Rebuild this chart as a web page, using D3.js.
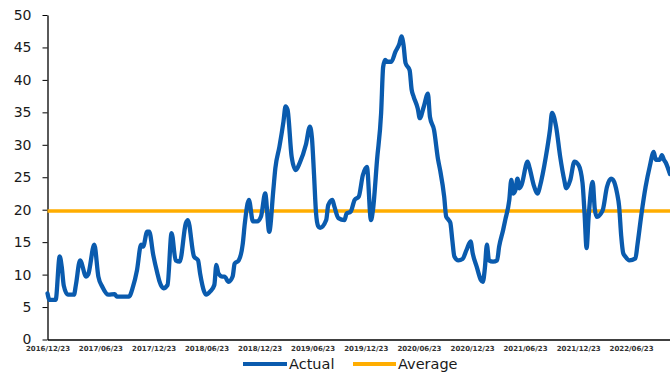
<!DOCTYPE html>
<html>
<head>
<meta charset="utf-8">
<script src="https://cdn.jsdelivr.net/npm/d3@7"></script>
<style>
  html, body { margin: 0; padding: 0; background: #fff; }
  svg { display: block; }
</style>
</head>
<body>
<svg id="chart" width="670" height="376"></svg>
<script>
// Weekly observations (Friday dates) and the actual level at each.
const dates = [
  "2016-12-23","2016-12-30","2017-01-20","2017-02-03","2017-02-10","2017-02-17","2017-03-03","2017-03-24",
  "2017-03-31","2017-04-14","2017-05-05","2017-05-12","2017-06-02","2017-06-16","2017-06-30","2017-07-21",
  "2017-08-11","2017-08-18","2017-09-29","2017-10-13","2017-10-27","2017-11-10","2017-11-17","2017-12-01",
  "2017-12-08","2017-12-22",
  "2018-01-05","2018-01-12","2018-01-26","2018-02-09","2018-02-23","2018-03-09","2018-03-23","2018-04-13",
  "2018-04-20","2018-05-11","2018-05-25","2018-06-01","2018-06-15","2018-06-22","2018-07-06","2018-07-20",
  "2018-07-27","2018-08-03","2018-08-17","2018-08-24","2018-09-07","2018-09-21","2018-09-28","2018-10-12",
  "2018-10-26","2018-11-02","2018-11-16","2018-11-30","2018-12-14","2018-12-28",
  "2019-01-11","2019-01-25","2019-02-08","2019-02-15","2019-03-01","2019-03-15","2019-03-22","2019-03-29",
  "2019-04-12","2019-04-26","2019-05-10","2019-05-31","2019-06-14","2019-06-21","2019-06-28","2019-07-05",
  "2019-07-12","2019-07-19","2019-08-09","2019-08-16","2019-08-30","2019-09-06","2019-09-20","2019-10-11",
  "2019-10-18","2019-11-01","2019-11-15","2019-11-29","2019-12-13","2019-12-27",
  "2020-01-10","2020-01-17","2020-01-31","2020-02-14","2020-02-21","2020-02-28","2020-03-06","2020-03-20",
  "2020-04-03","2020-04-17","2020-04-24","2020-05-01","2020-05-08","2020-05-22","2020-05-29","2020-06-05",
  "2020-06-19","2020-06-26","2020-07-10","2020-07-24","2020-07-31","2020-08-14","2020-08-28","2020-09-04",
  "2020-09-18","2020-09-25","2020-10-02","2020-10-09","2020-10-16","2020-10-23","2020-11-06","2020-11-20",
  "2020-12-04","2020-12-18","2020-12-25",
  "2021-01-08","2021-01-22","2021-01-29","2021-02-05","2021-02-12","2021-02-19","2021-03-05","2021-03-19",
  "2021-03-26","2021-04-09","2021-04-16","2021-04-30","2021-05-07","2021-05-14","2021-05-21","2021-05-28",
  "2021-06-04","2021-06-11","2021-07-02","2021-07-09","2021-07-23","2021-08-06","2021-08-13","2021-09-03",
  "2021-09-17","2021-09-24","2021-10-08","2021-10-22","2021-11-05","2021-11-12","2021-11-26","2021-12-10",
  "2021-12-24",
  "2022-01-07","2022-01-14","2022-01-21","2022-01-28","2022-02-11","2022-02-18","2022-02-25","2022-03-11",
  "2022-03-18","2022-04-01","2022-04-15","2022-04-22","2022-05-06","2022-05-13","2022-05-20","2022-05-27",
  "2022-06-03","2022-06-17","2022-07-08","2022-07-15","2022-07-29","2022-08-12","2022-08-26","2022-09-09",
  "2022-09-16","2022-09-30","2022-10-07","2022-10-14","2022-10-21","2022-10-28","2022-11-04"
];

const actual = [
  7.1, 6.1, 6.1, 12.8, 11.2, 8.3, 6.9, 6.9,
  8.5, 12.2, 9.7, 10.0, 14.6, 9.7, 8.1, 6.9,
  7.0, 6.6, 6.6, 8.1, 10.7, 14.6, 14.3, 16.6,
  16.6, 13.0,
  10.2, 9.0, 7.9, 8.4, 16.4, 12.2, 12.0, 17.9,
  18.4, 12.8, 12.2, 10.2, 7.4, 6.9, 7.4, 8.4,
  11.5, 10.2, 9.7, 9.7, 8.9, 9.7, 11.7, 12.2,
  14.8, 17.9, 21.5, 18.2, 18.2, 19.0,
  22.5, 16.6, 23.0, 26.4, 29.7, 33.6, 35.9, 35.4,
  28.2, 26.1, 27.2, 30.0, 32.8, 31.0, 25.5, 19.5,
  17.5, 17.2, 18.4, 20.7, 21.5, 20.5, 18.7, 18.4,
  19.4, 19.7, 21.5, 22.0, 25.3, 26.6,
  18.4, 20.0, 27.7, 34.9, 42.0, 43.1, 42.8, 42.8,
  44.3, 45.6, 46.7, 45.4, 42.6, 41.5, 38.5, 37.4,
  35.6, 34.1, 35.9, 37.9, 34.3, 32.3, 27.7, 26.1,
  22.0, 18.9, 18.5, 18.0, 15.3, 12.8, 12.2, 12.4,
  13.8, 15.1, 13.3,
  11.2, 9.2, 8.9, 11.0, 14.6, 12.2, 12.0, 12.2,
  14.3, 16.9, 18.4, 21.5, 24.6, 22.5, 23.0, 24.8,
  23.3, 23.8, 27.4, 26.4, 23.8, 22.5, 23.5, 28.2,
  32.3, 34.9, 32.8, 28.2, 24.6, 23.3, 24.6, 27.4,
  26.9,
  24.1, 19.4, 14.1, 18.9, 24.3, 20.2, 18.9, 19.4,
  20.0, 23.5, 24.8, 24.6, 22.5, 20.5, 16.0, 13.3,
  12.8, 12.2, 12.5, 14.6, 19.4, 23.5, 26.6, 28.9,
  27.7, 27.7, 28.4, 27.7, 27.2, 26.4, 25.5
];

// Long-run average level
const averageLevel = [19.8];

const yTicks = [0, 5, 10, 15, 20, 25, 30, 35, 40, 45, 50];
const xTickLabels = [
  "2016/12/23","2017/06/23","2017/12/23","2018/06/23","2018/12/23","2019/06/23",
  "2019/12/23","2020/06/23","2020/12/23","2021/06/23","2021/12/23","2022/06/23"
];
const seriesNames = ["Actual", "Average"];
const colors = { Actual: "#0A5BAE", Average: "#FFAD00" };

const parse = d3.timeParse("%Y-%m-%d");
const parseLabel = d3.timeParse("%Y/%m/%d");
const fmtLabel = d3.timeFormat("%Y/%m/%d");

const points = dates.map((d, i) => ({ date: parse(d), value: actual[i] }));

const svg = d3.select("#chart");
const plot = { left: 47.5, right: 670, top: 15, bottom: 339.5 };

const x = d3.scaleTime()
  .domain([parse("2016-12-23"), parse("2022-11-04")])
  .range([plot.left, plot.right]);

const y = d3.scaleLinear()
  .domain([0, 50])
  .range([plot.bottom, plot.top]);

// Y axis
const yAxis = svg.append("g")
  .attr("transform", `translate(${plot.left},0)`)
  .call(d3.axisLeft(y).tickValues(yTicks).tickSize(5).tickSizeOuter(0).tickPadding(11));
yAxis.select(".domain").attr("stroke", "#000").attr("stroke-width", 1.3);
yAxis.selectAll(".tick line").attr("stroke", "#000").attr("stroke-width", 1);
yAxis.selectAll(".tick text")
  .attr("fill", "#1a1a1a")
  .style("font-family", "'DejaVu Sans', Verdana, sans-serif")
  .style("font-size", "14px");

// X axis
const xAxis = svg.append("g")
  .attr("transform", `translate(0,${plot.bottom})`)
  .call(d3.axisBottom(x)
    .tickValues(xTickLabels.map(parseLabel))
    .tickFormat(fmtLabel)
    .tickSize(0)
    .tickPadding(7));
xAxis.select(".domain").attr("stroke", "#000").attr("stroke-width", 1.3);
xAxis.selectAll(".tick text")
  .attr("fill", "#333")
  .style("font-family", "'DejaVu Sans', Verdana, sans-serif")
  .style("font-size", "7px")
  .style("font-weight", "bold");

// Average line
svg.append("g").selectAll("line")
  .data(averageLevel)
  .join("line")
  .attr("x1", plot.left).attr("x2", plot.right)
  .attr("y1", d => y(d)).attr("y2", d => y(d))
  .attr("stroke", colors.Average)
  .attr("stroke-width", 3.5);

// Actual series, lightly smoothed
const line = d3.line()
  .curve(d3.curveMonotoneX)
  .x(d => x(d.date))
  .y(d => y(d.value));

svg.append("path")
  .datum(points)
  .attr("d", line)
  .attr("fill", "none")
  .attr("stroke", colors.Actual)
  .attr("stroke-width", 4.3)
  .attr("stroke-linejoin", "round")
  .attr("stroke-linecap", "round");

// Legend
const legend = svg.append("g").attr("transform", "translate(0,364)");
const legendItems = [
  { name: seriesNames[0], x1: 243, x2: 287 },
  { name: seriesNames[1], x1: 353, x2: 396 }
];
const item = legend.selectAll("g").data(legendItems).join("g");
item.append("line")
  .attr("x1", d => d.x1).attr("x2", d => d.x2)
  .attr("y1", 0).attr("y2", 0)
  .attr("stroke", d => colors[d.name])
  .attr("stroke-width", 4);
item.append("text")
  .attr("x", d => d.x2 + 2)
  .attr("y", 0)
  .attr("dy", "0.36em")
  .attr("fill", "#1a1a1a")
  .style("font-family", "'DejaVu Sans', Verdana, sans-serif")
  .style("font-size", "14.5px")
  .text(d => d.name);
</script>
</body>
</html>
